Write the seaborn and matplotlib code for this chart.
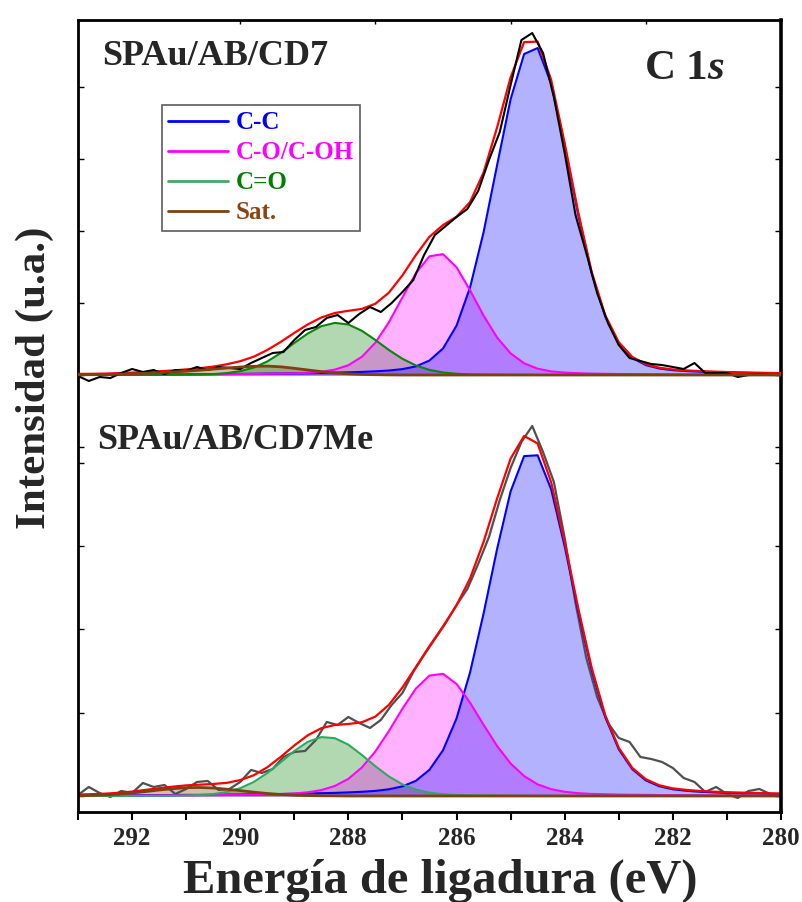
import numpy as np
import pandas as pd
import matplotlib
matplotlib.use("Agg")
import matplotlib.pyplot as plt
import seaborn as sns
from matplotlib.lines import Line2D
from matplotlib.ticker import FixedLocator

# ---------------- data ----------------
# energy grid of the fitted components (eV)
E_fit = [293.0, 292.75, 292.5, 292.25, 292.0, 291.75, 291.5, 291.25, 291.0, 290.75,
         290.5, 290.25, 290.0, 289.75, 289.5, 289.25, 289.0, 288.75, 288.5, 288.25,
         288.0, 287.75, 287.5, 287.25, 287.0, 286.75, 286.5, 286.25, 286.0, 285.75,
         285.5, 285.25, 285.0, 284.75, 284.5, 284.25, 284.0, 283.75, 283.5, 283.25,
         283.0, 282.75, 282.5, 282.25, 282.0, 281.75, 281.5, 281.25, 281.0, 280.75,
         280.5, 280.25, 280.0]

# --- SPAu/AB/CD7 (top) ---
cc_top = [0.5, 0.5, 0.5, 0.6, 0.6, 0.6, 0.7, 0.7, 0.8, 0.9,
          0.9, 1.0, 1.1, 1.2, 1.4, 1.5, 1.7, 1.9, 2.1, 2.4,
          2.7, 3.1, 3.7, 4.5, 5.9, 8.6, 14.5, 26.5, 49.3, 87.5,
          142.7, 209.8, 275.8, 321.0, 327.0, 291.5, 229.3, 160.7, 101.4, 58.4,
          31.7, 17.1, 9.9, 6.5, 4.8, 3.9, 3.3, 2.8, 2.5, 2.2,
          1.9, 1.7, 1.5]
co_top = [0.3, 0.3, 0.3, 0.4, 0.4, 0.4, 0.5, 0.5, 0.6, 0.6,
          0.7, 0.8, 0.9, 1.0, 1.2, 1.4, 1.7, 2.2, 3.2, 5.4,
          9.8, 18.2, 32.3, 52.8, 77.6, 102.0, 118.7, 120.9, 107.8, 84.8,
          59.4, 37.5, 21.6, 11.7, 6.3, 3.6, 2.4, 1.8, 1.4, 1.2,
          1.0, 0.9, 0.8, 0.7, 0.6, 0.6, 0.5, 0.5, 0.4, 0.4,
          0.4, 0.3, 0.3]
cdo_top = [0.1, 0.1, 0.1, 0.1, 0.2, 0.2, 0.2, 0.3, 0.4, 0.5,
           0.9, 1.9, 3.8, 7.4, 13.5, 22.0, 32.0, 41.5, 48.8, 52.1,
           50.5, 44.2, 35.0, 25.0, 16.2, 9.5, 5.1, 2.5, 1.2, 0.6,
           0.4, 0.3, 0.2, 0.2, 0.1, 0.1, 0.1, 0.1, 0.1, 0.1,
           0.1, 0.1, 0.1, 0.1, 0.1, 0.1, 0.1, 0.1, 0.1, 0.1,
           0.1, 0.1, 0.1]
sat_top = [0.2, 0.3, 0.5, 0.8, 1.2, 1.7, 2.3, 3.0, 3.8, 4.8,
           5.9, 7.0, 8.0, 8.7, 8.9, 8.2, 6.7, 5.0, 3.4, 2.1,
           1.2, 0.6, 0.3, 0.1, 0.0, 0.0, 0.0, 0.0, 0.0, 0.0,
           0.0, 0.0, 0.0, 0.0, 0.0, 0.0, 0.0, 0.0, 0.0, 0.0,
           0.0, 0.0, 0.0, 0.0, 0.0, 0.0, 0.0, 0.0, 0.0, 0.0,
           0.0, 0.0, 0.0]

# --- SPAu/AB/CD7Me (bottom) ---
cc_bot = [0.6, 0.7, 0.7, 0.7, 0.8, 0.9, 0.9, 1.0, 1.1, 1.1,
          1.2, 1.3, 1.5, 1.6, 1.8, 2.0, 2.2, 2.4, 2.8, 3.1,
          3.6, 4.2, 5.1, 6.7, 9.6, 15.2, 26.2, 45.7, 77.5, 123.5,
          182.4, 247.0, 304.6, 339.9, 340.7, 306.7, 249.7, 185.0, 125.8, 79.0,
          46.7, 26.8, 15.6, 9.7, 6.7, 5.2, 4.2, 3.6, 3.1, 2.8,
          2.5, 2.2, 2.0]
co_bot = [0.4, 0.4, 0.4, 0.5, 0.5, 0.6, 0.6, 0.7, 0.7, 0.8,
          0.9, 1.0, 1.2, 1.3, 1.5, 1.9, 2.5, 3.7, 5.9, 10.0,
          17.1, 28.5, 44.6, 65.0, 87.3, 107.5, 120.4, 122.2, 112.1, 93.3,
          71.2, 50.0, 32.5, 19.9, 11.6, 6.8, 4.2, 2.8, 2.1, 1.7,
          1.4, 1.2, 1.1, 0.9, 0.8, 0.8, 0.7, 0.6, 0.6, 0.5,
          0.5, 0.4, 0.4]
cdo_bot = [0.1, 0.1, 0.1, 0.1, 0.1, 0.2, 0.2, 0.3, 0.5, 0.9,
           1.9, 4.0, 7.8, 14.0, 22.9, 33.7, 45.0, 54.2, 58.9, 57.8,
           51.3, 41.0, 29.7, 19.5, 11.6, 6.4, 3.3, 1.7, 1.0, 0.7,
           0.5, 0.4, 0.3, 0.3, 0.2, 0.2, 0.2, 0.1, 0.1, 0.1,
           0.1, 0.1, 0.1, 0.1, 0.1, 0.1, 0.1, 0.1, 0.1, 0.1,
           0.1, 0.1, 0.1]
sat_bot = [0.3, 0.6, 1.1, 1.9, 3.0, 4.4, 6.0, 7.3, 8.3, 8.5,
           8.0, 6.8, 5.4, 3.8, 2.5, 1.5, 0.8, 0.4, 0.2, 0.1,
           0.0, 0.0, 0.0, 0.0, 0.0, 0.0, 0.0, 0.0, 0.0, 0.0,
           0.0, 0.0, 0.0, 0.0, 0.0, 0.0, 0.0, 0.0, 0.0, 0.0,
           0.0, 0.0, 0.0, 0.0, 0.0, 0.0, 0.0, 0.0, 0.0, 0.0,
           0.0, 0.0, 0.0]

# measured spectra
E_raw = [293.0, 292.8, 292.6, 292.4, 292.2, 292.0, 291.8, 291.6, 291.4, 291.2,
         291.0, 290.8, 290.6, 290.4, 290.2, 290.0, 289.8, 289.6, 289.4, 289.2,
         289.0, 288.8, 288.6, 288.4, 288.2, 288.0, 287.8, 287.6, 287.4, 287.2,
         287.0, 286.8, 286.6, 286.4, 286.2, 286.0, 285.8, 285.6, 285.4, 285.2,
         285.0, 284.8, 284.6, 284.4, 284.2, 284.0, 283.8, 283.6, 283.4, 283.2,
         283.0, 282.8, 282.6, 282.4, 282.2, 282.0, 281.8, 281.6, 281.4, 281.2,
         281.0, 280.8, 280.6, 280.4, 280.2, 280.0]
raw_top = [-1, -6, -2, -3, 2, 6, 3, 5, 1, 5,
           4, 8, 5, 8, 7, 6, 12, 17, 22, 23,
           35, 45, 48, 57, 60, 52, 61, 68, 63, 72,
           83, 95, 120, 140, 149, 158, 166, 184, 215, 243,
           290, 335, 342, 322, 278, 222, 160, 122, 82, 52,
           30, 17, 14, 11, 10, 8, 6, 12, 2, 2,
           2, -2, 0, 1, 0, 0]
raw_bot = [1, 9, 3, -1, 5, 3, 13, 9, 11, 2,
           7, 14, 15, 6, 7, 14, 26, 23, 27, 39,
           44, 45, 56, 74, 71, 79, 73, 68, 76, 91,
           103, 124, 141, 157, 173, 191, 207, 232, 259, 296,
           328, 354, 370, 344, 314, 258, 193, 138, 99, 73,
           58, 54, 39, 37, 34, 28, 18, 14, 4, 9,
           2, -2, 5, 7, 2, 1]

labels = ["C-C", "C-O/C-OH", "C=O", "Sat."]
x_ticks = [292, 290, 288, 286, 284, 282, 280]

# ---------------- style ----------------
sns.set_theme(style="white")
plt.rcParams["font.family"] = ["Liberation Serif", "DejaVu Serif"]
plt.rcParams["font.weight"] = "bold"
plt.rcParams["mathtext.fontset"] = "custom"
plt.rcParams["mathtext.rm"] = "Liberation Serif:bold"
plt.rcParams["mathtext.it"] = "Liberation Serif:italic:bold"
plt.rcParams["mathtext.bf"] = "Liberation Serif:bold"

C_BLUE = "#0000FF"
C_MAG = "#FF00FF"
C_GREEN_TOP = "#0A850A"
C_GREEN_BOT = "#2EAA5F"
C_BROWN = "#7D410F"
C_RED = "#FF0000"

fig = plt.figure(figsize=(8.03, 9.02), dpi=100)
rect = [0.0971, 0.0998, 0.8755, 0.878]
ax_bot = fig.add_axes(rect)
ax_top = fig.add_axes(rect, facecolor="none")


def draw_panel(ax, comps, green_line, raw, raw_color, raw_on_top):
    cc, co, cdo, sat = [np.asarray(c, dtype=float) for c in comps]
    env = cc + co + cdo + sat
    fills = [(sat, "#8B4513", 0.35), (cdo, "#008000", 0.30),
             (co, C_MAG, 0.30), (cc, C_BLUE, 0.30)]
    for y, c, a in fills:
        ax.fill_between(E_fit, 0, y, color=c, alpha=a, lw=0)
    df_raw = pd.DataFrame({"E": E_raw, "I": raw})
    if not raw_on_top:
        sns.lineplot(data=df_raw, x="E", y="I", ax=ax, color=raw_color, lw=1.6,
                     sort=False, estimator=None, legend=False)
    for y, c in [(cc, C_BLUE), (co, C_MAG), (cdo, green_line)]:
        sns.lineplot(x=E_fit, y=y, ax=ax, color=c, lw=1.5, sort=False,
                     estimator=None, legend=False)
    sns.lineplot(x=E_fit, y=env, ax=ax, color=C_RED, lw=1.6, sort=False,
                 estimator=None, legend=False)
    if raw_on_top:
        sns.lineplot(data=df_raw, x="E", y="I", ax=ax, color=raw_color, lw=1.5,
                     sort=False, estimator=None, legend=False)
    sns.lineplot(x=E_fit, y=sat, ax=ax, color=C_BROWN, lw=2.0, sort=False,
                 estimator=None, legend=False)
    ax.set_xlim(293, 280)
    ax.set_xlabel("")
    ax.set_ylabel("")


draw_panel(ax_top, (cc_top, co_top, cdo_top, sat_top), C_GREEN_TOP,
           raw_top, "#000000", True)
draw_panel(ax_bot, (cc_bot, co_bot, cdo_bot, sat_bot), C_GREEN_BOT,
           raw_bot, "#505050", False)

ax_top.set_ylim(-437, 355)
ax_bot.set_ylim(-16, 776)

# top layer: no frame, inward ticks
for s in ax_top.spines.values():
    s.set_visible(False)
ax_top.xaxis.set_major_locator(FixedLocator([290, 287.5, 285, 282.5]))
ax_top.tick_params(axis="x", which="both", bottom=False, top=True, direction="in",
                   length=3, width=1, labelbottom=False, labeltop=False, color="black")
ax_top.yaxis.set_major_locator(FixedLocator([-72, 0, 72, 144, 216, 288]))
ax_top.tick_params(axis="y", left=True, right=True, direction="in", length=4,
                   width=1, labelleft=False, labelright=False, color="black")

# bottom layer: frame + x axis
for s in ax_bot.spines.values():
    s.set_visible(True)
    s.set_color("black")
    s.set_linewidth(2.0)
ax_bot.spines["right"].set_linewidth(2.6)
ax_bot.xaxis.set_major_locator(FixedLocator(x_ticks))
ax_bot.xaxis.set_minor_locator(FixedLocator([293, 291, 289, 287, 285, 283, 281]))
ax_bot.set_xticklabels([str(t) for t in x_ticks])
ax_bot.tick_params(axis="x", which="both", bottom=True, top=False, direction="out",
                   length=6, width=1.5, color="black", labelsize=18, pad=5)
ax_bot.yaxis.set_major_locator(FixedLocator([0, 83.3, 166.7, 250, 333.3]))
ax_bot.tick_params(axis="y", left=True, right=True, direction="in", length=4,
                   width=1, labelleft=False, labelright=False, color="black")
for lab in ax_bot.get_xticklabels():
    lab.set_fontweight("bold")
ax_bot.set_xlim(293, 280)

# texts
fig.text(102 / 803, 1 - 65 / 902, "SPAu/AB/CD7", fontsize=26, fontweight="bold",
         ha="left", va="baseline")
fig.text(97 / 803, 1 - 449 / 902, "SPAu/AB/CD7Me", fontsize=26, fontweight="bold",
         ha="left", va="baseline")
fig.text(644 / 803, 1 - 79 / 902, r"C 1$\mathit{s}$", fontsize=31,
         fontweight="bold", ha="left", va="baseline")
fig.text(35 / 803, 1 - 378 / 902, "Intensidad (u.a.)", fontsize=31,
         fontweight="bold", rotation=90, ha="center", va="center")
fig.text(440 / 803, 1 - 893 / 902, "Energía de ligadura (eV)", fontsize=35,
         fontweight="bold", ha="center", va="baseline")

# legend
handles = [Line2D([], [], color=C_BLUE, lw=2),
           Line2D([], [], color=C_MAG, lw=2),
           Line2D([], [], color="#3CAA6A", lw=2),
           Line2D([], [], color=C_BROWN, lw=2)]
leg = ax_top.legend(handles, labels, loc="upper left",
                    bbox_to_anchor=(162 / 803, 1 - 105 / 902),
                    bbox_transform=fig.transFigure, borderaxespad=0,
                    fancybox=False, frameon=True, handlelength=2.4,
                    handletextpad=0.3, labelspacing=0.28, borderpad=0.25,
                    prop={"size": 18, "weight": "bold"})
leg.get_frame().set_edgecolor("#333333")
leg.get_frame().set_linewidth(1.2)
for txt, c in zip(leg.get_texts(), [C_BLUE, C_MAG, "#008000", "#8B4513"]):
    txt.set_color(c)

fig.savefig("out.png", dpi=100)
